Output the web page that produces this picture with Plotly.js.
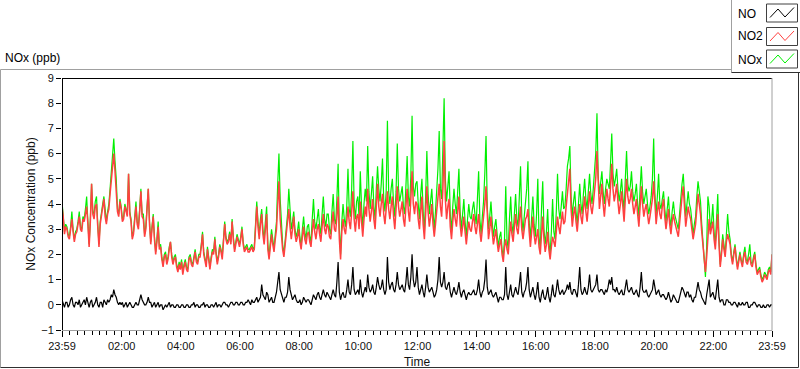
<!DOCTYPE html>
<html>
<head>
<meta charset="utf-8">
<script src="https://cdn.plot.ly/plotly-3.0.1.min.js"></script>
<style>
  html, body { margin: 0; padding: 0; background: #ffffff; }
  #chart { width: 800px; height: 369px; }
</style>
</head>
<body>
<div id="chart"></div>
<script>
// Sampling step of the series (minutes after 23:59 of the previous day)
const stepMinutes = 2.5;

// NO2 concentration (ppb), 23:59 -> 23:59 (24 samples per hour)
const no2 = [
  3.9,3.5,2.8,3.1,3.0,2.7,2.6,3.0,3.4,2.9,2.5,2.8,2.9,3.2,3.5,3.0,2.9,3.4,3.3,3.6,3.9,3.2,2.3,3.3,
  4.8,3.6,3.4,3.9,4.0,3.1,2.3,3.2,3.6,3.9,4.2,3.5,3.2,3.6,3.8,4.4,5.0,5.6,6.0,5.3,4.6,3.7,3.5,4.1,
  3.8,3.3,3.4,3.9,3.7,3.5,5.2,3.6,3.3,2.6,2.8,3.5,3.9,3.2,3.0,3.7,4.5,3.5,3.4,2.7,3.0,3.8,4.6,3.2,
  2.4,3.0,3.5,2.6,2.0,2.5,3.1,2.2,2.3,1.8,1.5,1.9,2.0,1.6,1.8,2.2,2.5,1.9,1.6,1.8,1.9,1.5,1.3,1.6,
  1.4,1.7,1.2,1.5,1.7,1.4,1.3,1.8,1.9,1.6,1.5,1.8,2.1,1.7,1.6,1.9,1.9,2.3,2.8,2.0,1.7,1.5,2.2,1.8,
  1.4,1.8,2.1,2.0,2.6,2.0,1.6,1.9,2.3,2.1,1.8,2.5,3.2,2.6,2.4,2.5,2.8,2.4,3.3,2.6,2.1,2.4,2.7,2.5,
  2.3,2.6,3.0,2.4,2.1,2.2,2.3,2.1,2.1,2.2,2.3,2.1,2.2,3.0,3.9,3.1,2.6,3.2,3.6,2.8,2.4,3.0,3.6,2.2,
  1.8,2.3,2.8,2.4,2.1,2.6,3.0,4.0,4.9,3.4,2.6,2.2,1.9,2.4,2.9,3.2,3.8,3.1,2.6,3.0,3.5,2.8,2.5,2.7,
  3.0,2.5,2.2,2.7,3.1,2.6,2.4,2.8,2.9,2.5,2.3,2.9,3.4,2.9,2.6,3.0,3.2,2.8,2.5,3.1,3.6,3.0,2.8,3.2,
  3.1,2.7,2.6,3.2,3.7,3.0,2.9,3.5,4.3,2.6,1.8,2.9,3.4,3.0,2.8,3.3,3.9,3.3,3.0,3.7,4.5,3.4,2.9,3.5,
  3.6,3.0,4.1,3.3,2.7,3.4,3.9,3.5,4.6,3.8,3.3,3.7,4.2,3.4,3.0,3.9,4.8,3.9,3.5,4.0,4.4,3.6,3.2,3.8,
  4.5,3.8,3.4,3.9,4.3,3.5,3.0,3.8,4.7,3.9,3.5,3.8,4.1,3.4,3.1,3.9,4.6,3.7,3.3,4.2,5.3,4.0,3.6,4.1,
  4.0,3.4,3.0,3.7,4.3,3.2,2.6,3.6,4.7,3.7,3.1,3.5,4.0,3.2,2.7,3.2,3.7,4.2,4.8,3.9,3.5,4.6,6.5,4.2,
  3.4,3.9,4.2,3.1,2.6,3.3,3.8,3.4,3.1,3.7,4.3,3.2,2.7,3.1,3.5,2.9,2.4,2.9,3.3,3.0,2.9,3.3,3.6,3.1,
  2.8,3.2,3.6,2.9,2.5,3.0,3.4,4.0,4.7,3.3,2.6,3.0,3.5,2.9,2.4,2.7,3.0,2.5,2.1,2.4,2.6,2.0,1.7,2.3,
  2.6,2.2,2.0,2.7,3.3,2.8,2.5,3.1,3.6,3.0,2.8,3.4,3.9,3.0,2.6,3.0,3.4,3.5,3.8,2.9,2.3,2.9,3.5,2.8,
  2.4,2.7,3.0,2.3,2.0,2.8,3.5,2.6,2.1,2.4,2.9,2.2,1.8,2.3,2.7,2.5,2.3,2.9,3.5,3.1,2.8,3.3,3.7,3.2,
  3.3,3.9,4.4,4.9,5.4,3.8,3.1,3.6,3.9,3.3,2.9,3.5,4.0,3.5,3.2,3.8,4.3,3.7,3.3,3.9,4.5,3.9,3.6,4.0,
  4.4,5.0,6.1,4.5,3.8,4.3,4.8,4.0,3.5,4.1,4.6,4.2,3.9,4.7,5.6,4.6,4.1,4.4,4.8,4.1,3.6,4.0,4.5,3.9,
  3.3,4.2,5.0,4.3,4.0,4.2,4.6,4.0,3.6,3.9,4.2,3.6,3.1,3.9,4.7,4.0,3.5,3.8,4.0,3.6,3.2,3.5,3.8,4.2,
  4.9,3.9,3.2,3.7,4.1,3.6,3.4,3.9,4.2,3.5,3.0,3.4,3.8,3.2,2.8,3.3,3.6,3.3,3.1,2.9,2.7,3.2,3.9,4.3,
  4.7,3.6,3.1,3.5,3.9,3.6,3.4,3.0,2.6,2.9,3.2,3.8,4.4,4.0,3.6,2.9,2.3,1.7,1.3,1.9,2.5,3.4,2.8,3.0,
  3.3,2.6,2.2,2.9,3.6,2.4,1.5,2.0,2.6,2.2,1.9,2.5,2.8,2.6,2.4,1.9,1.6,2.0,2.3,1.8,1.4,1.7,2.0,1.7,
  1.5,1.9,2.1,1.7,1.6,1.8,1.9,1.6,1.5,1.8,2.0,1.5,1.2,1.3,1.4,1.1,0.9,1.0,1.2,1.1,1.0,1.3,1.4,1.2,2.0
];

// NOx concentration (ppb)
const nox = [
  4.1,3.6,2.9,3.2,3.1,2.8,2.7,3.1,3.7,3.0,2.6,2.9,3.0,3.3,3.7,3.1,3.0,3.5,3.4,3.8,4.3,3.3,2.4,3.4,
  4.8,3.7,3.6,4.1,4.3,3.2,2.4,3.3,3.8,4.0,4.3,3.6,3.3,3.7,4.0,4.6,5.4,6.0,6.6,5.7,5.0,3.8,3.6,4.2,
  3.9,3.4,3.5,4.0,3.8,3.6,5.2,3.7,3.4,2.7,2.9,3.6,4.1,3.3,3.1,3.8,4.6,3.6,3.6,2.8,3.1,3.9,4.6,3.3,
  2.5,3.1,3.6,2.7,2.1,2.6,3.3,2.3,2.4,1.9,1.6,2.0,2.1,1.7,1.9,2.3,2.5,2.0,1.7,1.9,2.0,1.6,1.4,1.7,
  1.5,1.8,1.3,1.6,1.8,1.5,1.4,1.9,2.0,1.7,1.6,1.9,2.2,1.8,1.7,2.0,2.0,2.4,2.9,2.1,1.8,1.6,2.3,1.9,
  1.5,1.9,2.2,2.1,2.7,2.1,1.7,2.0,2.4,2.2,1.9,2.6,3.3,2.7,2.5,2.6,2.9,2.5,3.4,2.7,2.2,2.5,2.8,2.6,
  2.4,2.7,3.1,2.5,2.2,2.3,2.4,2.2,2.2,2.3,2.4,2.2,2.3,3.2,4.1,3.3,2.8,3.4,3.8,3.0,2.6,3.3,3.9,2.4,
  1.9,2.5,3.0,2.6,2.2,2.8,3.3,4.8,6.0,4.2,3.2,2.4,2.0,2.6,3.1,3.6,4.6,3.5,3.0,3.3,3.7,3.0,2.7,2.9,
  3.3,2.7,2.3,3.0,3.5,2.9,2.6,3.1,3.2,2.7,2.5,3.4,4.2,3.3,3.0,3.4,3.8,3.1,2.8,3.6,4.3,3.4,3.1,3.6,
  3.6,3.0,2.8,3.7,4.4,3.4,3.2,4.2,5.6,3.0,2.0,3.3,4.0,3.4,3.1,3.9,5.4,3.8,3.5,4.6,6.5,4.0,3.4,4.1,
  4.3,3.5,5.3,3.9,3.0,4.0,4.6,4.1,6.3,4.5,3.8,4.4,5.1,3.9,3.4,4.6,5.5,4.6,4.1,4.8,5.8,4.2,3.7,4.5,
  7.3,4.5,4.0,4.6,5.0,4.0,3.5,4.5,6.4,4.6,4.1,4.4,4.7,3.9,3.6,4.7,5.9,4.3,3.9,5.1,7.5,4.7,4.3,4.8,
  4.9,4.0,3.4,4.4,5.0,3.7,2.9,4.3,6.1,4.4,3.6,4.1,4.6,3.7,3.0,3.7,4.4,5.4,6.9,4.6,4.2,5.8,8.2,5.0,
  4.1,4.7,5.3,3.6,2.9,3.9,4.6,4.0,3.6,4.5,5.4,3.7,3.0,3.6,4.2,3.3,2.7,3.4,4.0,3.5,3.4,3.8,4.1,3.6,
  3.2,4.2,5.3,3.4,2.8,3.5,4.1,5.2,6.7,3.9,3.0,3.5,4.1,3.3,2.7,3.1,3.4,2.8,2.3,2.7,2.9,2.2,1.9,2.6,
  4.7,2.6,2.2,3.4,4.3,3.2,2.8,3.6,4.4,3.4,3.1,4.3,5.5,3.5,2.9,3.5,4.0,4.6,5.7,3.3,2.6,3.5,4.3,3.2,
  2.7,3.6,5.0,2.7,2.2,3.8,4.9,3.0,2.4,2.9,3.8,2.5,2.0,2.9,4.2,2.9,2.6,3.7,5.2,3.8,3.4,3.9,4.5,3.8,
  3.9,4.6,5.5,5.8,6.3,4.3,3.5,4.1,4.5,3.7,3.2,4.0,4.8,4.0,3.6,4.4,5.0,4.2,3.8,4.5,5.2,4.4,4.0,4.6,
  5.2,6.0,7.6,5.1,4.4,4.8,5.3,4.5,4.0,4.6,5.0,4.8,4.6,5.6,6.8,5.2,4.7,5.0,5.4,4.6,4.1,4.5,5.0,4.3,
  3.7,5.0,6.1,4.8,4.5,4.7,5.3,4.5,4.1,4.4,4.8,4.0,3.5,4.6,5.5,4.5,4.0,4.3,4.6,4.0,3.6,3.9,4.3,5.0,
  6.6,4.4,3.6,4.3,5.2,4.0,3.8,4.2,4.5,3.8,3.3,3.8,4.3,3.5,3.1,3.7,4.1,3.6,3.4,3.2,3.0,3.6,4.4,4.8,
  5.2,4.0,3.5,4.0,4.5,4.0,3.8,3.3,2.8,3.2,3.5,4.3,4.9,4.5,4.1,3.2,2.5,1.6,1.1,2.3,4.3,3.9,3.0,3.3,
  4.0,2.9,2.4,3.4,4.4,2.6,1.6,2.1,2.8,2.4,2.0,2.8,3.6,2.9,2.6,2.0,1.7,2.1,2.4,1.9,1.5,1.8,2.1,1.8,
  1.6,2.0,2.3,1.8,1.7,2.0,2.4,1.7,1.6,1.9,2.1,1.6,1.3,1.4,1.5,1.2,1.0,1.1,1.3,1.2,1.1,1.4,1.5,1.3,2.0
];

// NO concentration (ppb)
const no = [
  0.2,0.0,-0.1,0.1,0.1,-0.1,0.0,0.2,0.3,0.0,-0.1,0.1,0.1,0.0,0.2,-0.1,0.0,0.1,0.2,0.0,0.3,0.1,-0.1,0.1,
  0.2,-0.1,0.0,0.1,0.3,0.0,-0.1,0.1,0.1,-0.1,0.2,0.1,0.0,0.2,0.1,0.2,0.4,0.3,0.6,0.4,0.3,0.1,0.0,0.1,
  0.0,0.1,-0.1,0.0,0.1,-0.1,0.0,0.1,0.0,-0.1,-0.1,0.0,0.1,0.0,0.0,0.2,0.4,0.2,0.1,0.0,0.0,0.1,0.3,0.1,
  0.1,-0.1,0.0,0.1,-0.1,0.0,0.1,-0.1,0.0,0.0,-0.2,-0.1,0.0,-0.1,0.0,0.1,-0.1,0.0,0.0,-0.1,-0.1,0.0,0.0,-0.1,
  -0.1,0.0,0.0,-0.1,-0.1,0.0,0.0,-0.1,-0.1,0.0,0.0,0.1,-0.1,0.0,0.0,-0.1,-0.1,0.0,0.0,0.1,-0.1,0.0,0.0,-0.1,
  -0.1,0.0,0.0,-0.1,0.0,0.1,-0.1,0.0,0.0,-0.1,0.0,0.1,0.1,0.0,0.0,-0.1,0.0,0.1,0.1,0.0,0.0,0.1,0.1,0.0,
  0.0,0.1,0.1,0.0,0.0,0.1,0.1,0.2,0.1,0.0,0.2,0.1,0.1,0.2,0.3,0.1,0.2,0.3,0.8,0.4,0.3,0.2,0.5,0.4,
  0.1,0.2,0.3,0.1,0.1,0.3,0.5,0.9,1.3,0.6,0.4,0.2,0.1,0.3,0.3,0.5,1.1,0.6,0.4,0.2,0.3,0.4,0.2,0.1,
  0.1,0.2,0.0,0.1,0.3,0.2,0.1,0.2,0.2,0.1,0.0,0.2,0.4,0.3,0.2,0.4,0.5,0.3,0.2,0.4,0.6,0.4,0.3,0.5,
  0.4,0.3,0.2,0.4,0.6,0.4,0.3,0.9,1.7,0.5,0.2,0.4,0.5,0.3,0.3,0.6,1.0,0.5,0.4,0.8,1.5,0.6,0.4,0.5,
  0.6,0.4,1.0,0.5,0.3,0.5,0.7,0.5,1.2,0.7,0.5,0.6,0.8,0.5,0.4,0.7,1.1,0.8,0.6,0.7,1.0,0.6,0.4,0.6,
  1.9,0.9,0.6,0.8,0.9,0.6,0.5,0.8,1.3,0.8,0.6,0.7,0.8,0.6,0.5,0.9,1.5,0.8,0.6,1.1,2.0,1.0,0.7,0.9,
  1.5,0.7,0.4,0.6,0.8,0.5,0.3,0.7,1.2,0.7,0.5,0.6,0.7,0.5,0.3,0.4,0.6,1.0,1.9,0.9,0.7,0.9,1.3,0.7,
  0.6,0.8,0.9,0.5,0.3,0.5,0.7,0.5,0.4,0.6,0.9,0.5,0.3,0.5,0.6,0.4,0.2,0.4,0.5,0.4,0.4,0.5,0.6,0.4,
  0.4,0.6,1.0,0.5,0.3,0.5,0.6,1.0,1.8,0.7,0.4,0.5,0.6,0.4,0.3,0.4,0.5,0.3,0.1,0.3,0.3,0.2,0.2,0.4,
  1.5,0.4,0.2,0.5,0.8,0.4,0.3,0.5,0.7,0.5,0.4,0.8,1.3,0.5,0.3,0.5,0.6,0.9,1.5,0.6,0.3,0.5,0.7,0.4,
  0.2,0.5,0.9,0.3,0.1,0.4,0.6,0.3,0.2,0.4,0.7,0.3,0.1,0.4,0.8,0.4,0.3,0.6,1.0,0.6,0.4,0.5,0.6,0.4,
  0.5,0.6,0.8,0.6,0.9,0.5,0.4,0.6,0.6,0.4,0.3,0.8,1.5,0.6,0.4,0.5,0.7,0.5,0.4,0.7,1.2,0.6,0.5,0.6,
  0.7,0.8,1.2,0.6,0.5,0.6,0.6,0.5,0.4,0.6,0.5,0.7,1.0,0.8,1.1,0.6,0.6,0.5,0.7,0.5,0.4,0.5,0.6,0.4,
  0.4,0.7,1.0,0.6,0.5,0.6,0.7,0.5,0.4,0.5,0.6,0.4,0.3,0.7,1.3,0.6,0.5,0.5,0.6,0.4,0.3,0.4,0.5,0.6,
  1.0,0.6,0.4,0.5,0.6,0.4,0.3,0.4,0.4,0.3,0.2,0.3,0.5,0.3,0.1,0.2,0.4,0.3,0.2,0.1,0.1,0.3,0.5,0.7,
  0.6,0.4,0.3,0.5,0.5,0.3,0.4,0.2,0.1,0.3,0.3,0.6,0.9,0.6,0.5,0.3,0.2,0.1,0.0,0.4,0.7,1.0,0.3,0.4,
  0.5,0.3,0.2,0.6,1.0,0.3,0.1,0.2,0.2,0.0,0.0,0.2,0.2,0.1,0.1,0.0,0.0,0.1,0.1,0.0,-0.1,0.1,0.0,0.0,
  0.1,0.0,0.0,0.1,0.1,-0.1,-0.1,0.0,0.0,0.1,0.1,0.0,-0.1,0.0,0.0,-0.1,-0.1,0.0,-0.1,-0.1,0.0,0.0,-0.1,0.0,0.0
];

// X tick positions (minutes after 23:59) and labels
const tickMinutes = [0, 121, 241, 361, 481, 601, 721, 841, 961, 1081, 1201, 1321, 1440];
const tickLabels = ['23:59', '02:00', '04:00', '06:00', '08:00', '10:00', '12:00',
                    '14:00', '16:00', '18:00', '20:00', '22:00', '23:59'];
const yTicks = [-1, 0, 1, 2, 3, 4, 5, 6, 7, 8, 9];
const seriesNames = ['NO', 'NO2', 'NOx'];
const seriesColors = ['#000000', '#ff4040', '#00f000'];

const timeOf = arr => arr.map((_, i) => i * stepMinutes);

// plot geometry helpers (pixel -> paper)
const L = 62, R = 772, T = 78, B = 330;
const X = px => (px - L) / (R - L);
const Y = py => (B - py) / (B - T);

const FONT = 'Liberation Sans, Arial, sans-serif';

const traces = [
  { x: timeOf(nox), y: nox, name: seriesNames[2], type: 'scatter', mode: 'lines',
    line: { color: seriesColors[2], width: 1.2 }, hoverinfo: 'skip' },
  { x: timeOf(no2), y: no2, name: seriesNames[1], type: 'scatter', mode: 'lines',
    line: { color: seriesColors[1], width: 1.5 }, hoverinfo: 'skip' },
  { x: timeOf(no), y: no, name: seriesNames[0], type: 'scatter', mode: 'lines',
    line: { color: seriesColors[0], width: 1.2 }, hoverinfo: 'skip' }
];

const shapes = [];
const line = (x0, y0, x1, y1, color, layer) => shapes.push({
  type: 'line', xref: 'paper', yref: 'paper', x0: X(x0), y0: Y(y0), x1: X(x1), y1: Y(y1),
  line: { color: color, width: 1 }, layer: layer || 'above'
});
// outer panel
line(0.5, 69.5, 798.5, 69.5, '#a0a0a0');
line(0.5, 69.5, 0.5, 367.5, '#a0a0a0');
line(0.5, 367.5, 798.5, 367.5, '#303030');
line(798.5, 69.5, 798.5, 367.5, '#303030');
// plot frame
line(62, 78.5, 772, 78.5, '#000000');
line(62.5, 78, 62.5, 330, '#000000');
line(772, 78, 772, 330.5, '#a0a0a0');
line(62, 330.5, 772, 330.5, '#a0a0a0');
// legend box
shapes.push({ type: 'rect', xref: 'paper', yref: 'paper', x0: X(731), x1: X(801), y0: Y(72), y1: Y(-1),
  fillcolor: '#ffffff', line: { width: 0 }, layer: 'above' });
line(731.5, 0, 731.5, 72.5, '#a0a0a0');
line(731.5, 72.5, 800, 72.5, '#303030');
const boxTops = [4, 27.5, 50];
boxTops.forEach((ty, k) => {
  shapes.push({ type: 'rect', xref: 'paper', yref: 'paper', x0: X(766.5), x1: X(797.5), y0: Y(ty + 18), y1: Y(ty),
    fillcolor: '#ffffff', line: { color: '#404040', width: 1 }, layer: 'above' });
  const pts = [[770, ty + 13.5], [778, ty + 5], [785, ty + 13], [794, ty + 3.5]];
  const path = 'M ' + pts.map(p => X(p[0]) + ',' + Y(p[1])).join(' L ');
  shapes.push({ type: 'path', xref: 'paper', yref: 'paper', path: path,
    line: { color: seriesColors[k], width: 1 }, layer: 'above' });
});

const annotations = [
  { text: 'NOx (ppb)', xref: 'paper', yref: 'paper', x: X(3), y: Y(58), xanchor: 'left', yanchor: 'middle',
    showarrow: false, font: { family: FONT, size: 12, color: '#000' } }
];
[13.5, 36, 60].forEach((cy, k) => annotations.push({
  text: seriesNames[k], xref: 'paper', yref: 'paper', x: X(735.5), y: Y(cy), xanchor: 'left', yanchor: 'middle',
  showarrow: false, font: { family: FONT, size: 12, color: '#000' }
}));

const layout = {
  width: 800, height: 369,
  margin: { l: L, r: 800 - R, t: T, b: 369 - B, pad: 0 },
  paper_bgcolor: '#ffffff', plot_bgcolor: '#ffffff',
  showlegend: false,
  font: { family: FONT, size: 11, color: '#000' },
  xaxis: {
    range: [0, 1440], tickmode: 'array', tickvals: tickMinutes, ticktext: tickLabels,
    ticks: 'outside', ticklen: 6, tickwidth: 1, tickcolor: '#000',
    showgrid: false, zeroline: false, showline: false,
    tickfont: { family: FONT, size: 11, color: '#111' },
    minor: { tick0: 1, dtick: 15, ticks: 'outside', ticklen: 4, tickwidth: 1, tickcolor: '#000', showgrid: false },
    title: { text: 'Time', font: { family: FONT, size: 12, color: '#111' }, standoff: 7 }
  },
  yaxis: {
    range: [-1, 9], tickmode: 'array', tickvals: yTicks,
    ticks: 'outside', ticklen: 5, tickwidth: 1, tickcolor: '#000',
    showgrid: false, zeroline: false, showline: false,
    tickfont: { family: FONT, size: 11, color: '#111' },
    title: { text: 'NOx Concentration (ppb)', font: { family: FONT, size: 12, color: '#111' }, standoff: 3 }
  },
  shapes: shapes,
  annotations: annotations
};

Plotly.newPlot('chart', traces, layout, { displayModeBar: false, staticPlot: true });
</script>
</body>
</html>
